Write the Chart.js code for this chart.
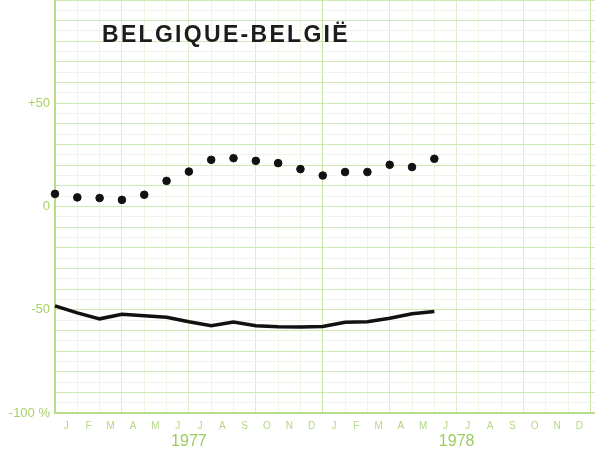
<!DOCTYPE html>
<html>
<head>
<meta charset="utf-8">
<script src="https://cdn.jsdelivr.net/npm/chart.js@4/dist/chart.umd.min.js"></script>
<style>
html,body{margin:0;padding:0;background:#fff;}
#wrap{width:595px;height:456px;position:relative;}
</style>
</head>
<body>
<div id="wrap"><canvas id="c" width="595" height="456"></canvas></div>
<script>
// ---- data ----
const title = 'BELGIQUE-BELGIË';
const monthLetters = ['J','F','M','A','M','J','J','A','S','O','N','D','J','F','M','A','M','J','J','A','S','O','N','D'];
const years = ['1977','1978'];
const yearPositions = [6, 18];
const yTickLabels = {'50':'+50','0':'0','-50':'-50','-100':'-100 %'};
// dots: Jan 1977 .. Jun 1978
const dotValues = [6.1, 4.4, 4.1, 3.2, 5.7, 12.4, 16.9, 22.6, 23.4, 22.1, 21.0, 18.1, 15.0, 16.7, 16.7, 20.2, 19.1, 23.1];
// solid line: Jan 1977 .. Jun 1978
const lineValues = [-48.1, -51.5, -54.4, -52.2, -52.9, -53.6, -55.8, -57.7, -56.0, -57.7, -58.2, -58.4, -58.1, -56.1, -55.8, -54.1, -51.9, -50.8];

const green = '#a9d167';
const X_MAX = 24.2;

const dotData = dotValues.map((v,i)=>({x:i,y:v}));
const lineData = lineValues.map((v,i)=>({x:i,y:v}));

function noPad(scale){ scale.paddingTop=0; scale.paddingBottom=0; scale.paddingLeft=0; scale.paddingRight=0; }

const titlePlugin = {
  id:'titleText',
  afterDraw(chart){
    const ctx = chart.ctx;
    ctx.save();
    ctx.font = 'bold 23px "Liberation Sans", Arial, sans-serif';
    try { ctx.letterSpacing = '2.3px'; } catch(e){}
    ctx.fillStyle = '#1c1c1c';
    ctx.textBaseline = 'middle';
    ctx.textAlign = 'left';
    ctx.fillText(title, 102, 36);
    ctx.restore();
  }
};

new Chart(document.getElementById('c'), {
  type:'line',
  data:{
    datasets:[
      {data:dotData, showLine:false, pointRadius:3.8, pointBackgroundColor:'#111', pointBorderColor:'#111', borderColor:'#111', xAxisID:'x', yAxisID:'y'},
      {data:lineData, borderColor:'#111', borderWidth:3.5, pointRadius:0, tension:0, fill:false, xAxisID:'x', yAxisID:'y'}
    ]
  },
  options:{
    responsive:false,
    animation:false,
    clip:false,
    layout:{padding:0, autoPadding:false},
    plugins:{legend:{display:false}, tooltip:{enabled:false}, title:{display:false}},
    scales:{
      x:{
        type:'linear', position:'bottom', min:0, max:X_MAX,
        afterBuildTicks(scale){
          const t=[];
          for(let i=0;i<=48;i++){ t.push({value:i/2}); }
          scale.ticks=t;
        },
        afterFit(scale){ scale.height = 18; noPad(scale); },
        grid:{
          drawTicks:false,
          color(ctx){
            const v = ctx.tick ? ctx.tick.value : 0;
            if (v % 1 !== 0) return 'rgba(0,0,0,0)';
            if (v % 12 === 0) return '#c9e4a2';
            if (v % 3 === 0) return '#dcefc4';
            return '#eff7e6';
          },
          lineWidth:1
        },
        border:{display:true, color:'#b9dc8c', width:2},
        ticks:{
          autoSkip:false, maxRotation:0, minRotation:0, padding:7,
          color:'#b2d884',
          font:{family:'"Liberation Sans", Arial, sans-serif', size:10},
          callback(value){
            if (value % 1 === 0) return '';
            const idx = Math.floor(value);
            return monthLetters[idx] || '';
          }
        }
      },
      year:{
        type:'linear', position:'bottom', min:0, max:X_MAX,
        afterBuildTicks(scale){ scale.ticks = yearPositions.map(v=>({value:v})); },
        afterFit(scale){ scale.height = 25; noPad(scale); },
        grid:{display:false, drawTicks:false},
        border:{display:false},
        ticks:{
          autoSkip:false, maxRotation:0, padding:1,
          color:'#9ccb62',
          font:{family:'"Liberation Sans", Arial, sans-serif', size:16},
          callback(value){ const i = yearPositions.indexOf(value); return i>=0 ? years[i] : ''; }
        }
      },
      y:{
        type:'linear', min:-100, max:100,
        afterBuildTicks(scale){
          const t=[];
          for(let v=-100; v<=100; v+=5){ t.push({value:v}); }
          scale.ticks=t;
        },
        afterFit(scale){ scale.width = 55; noPad(scale); },
        grid:{
          drawTicks:false,
          color(ctx){
            const v = ctx.tick ? ctx.tick.value : 0;
            if (v % 10 === 0) return '#cfe8b6';
            return '#eef5e8';
          },
          lineWidth:1
        },
        border:{display:true, color:'#b9dc8c', width:2},
        ticks:{
          autoSkip:false, padding:5,
          color:green,
          font:{family:'"Liberation Sans", Arial, sans-serif', size:13},
          callback(value){ const k=String(value); return yTickLabels.hasOwnProperty(k) ? yTickLabels[k] : ''; }
        }
      }
    }
  },
  plugins:[titlePlugin]
});
</script>
</body>
</html>
